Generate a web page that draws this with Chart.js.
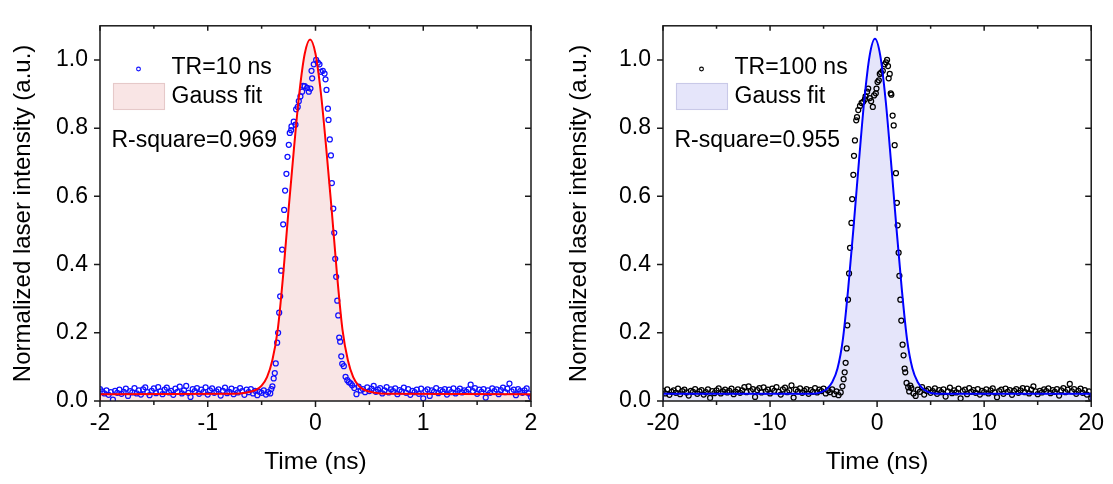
<!DOCTYPE html>
<html><head><meta charset="utf-8">
<script src="https://cdn.jsdelivr.net/npm/chart.js@4/dist/chart.umd.min.js"></script>
<style>
html,body{margin:0;padding:0;background:#fff;}
#wrap{position:relative;width:1113px;height:484px;overflow:hidden;}
.pane{position:absolute;top:0;height:484px;}
</style></head><body>
<div id="wrap">
<div class="pane" style="left:0;width:556px"><canvas id="c1" width="556" height="484"></canvas></div>
<div class="pane" style="left:556px;width:557px"><canvas id="c2" width="557" height="484"></canvas></div>
</div>
<script>
// ---------- Left panel (TR = 10 ns), time in ns ----------
const leftXTicks = [-2, -1, 0, 1, 2];
const leftPreStart = -2.0, leftPreStep = 0.02;
const leftPreValues = [
0.035,0.028,0.022,0.031,0.018,0.026,0.004,0.030,0.024,0.033,
0.021,0.027,0.036,0.015,0.029,0.025,0.038,0.022,0.031,0.019,
0.034,0.040,0.026,0.017,0.030,0.037,0.023,0.041,0.028,0.020,
0.033,0.039,0.025,0.030,0.018,0.036,0.027,0.042,0.022,0.031,
0.044,0.024,0.012,0.035,0.029,0.038,0.021,0.033,0.026,0.040,
0.019,0.031,0.037,0.024,0.028,0.034,0.016,0.030,0.039,0.023,
0.027,0.036,0.020,0.032,0.025,0.038,0.029,0.018,0.033,0.026,
0.035,0.022,0.030,0.017,0.027,0.024,0.031,0.019,0.026];
const leftPeakTimes = [-0.42,-0.41,-0.40,-0.388,-0.378,-0.369,-0.356,-0.347,-0.337,-0.328,-0.319,-0.310,-0.300,-0.291,-0.282,-0.270,-0.260,-0.248,-0.239,-0.226,-0.223,-0.202,-0.186,-0.180,-0.165,-0.155,-0.140,-0.124,-0.115,-0.100,-0.077,-0.062,-0.047,-0.037,-0.031,-0.016,0.006,0.022,0.037,0.050,0.068,0.084,0.093,0.102,0.115,0.121,0.133,0.143,0.152,0.165,0.174,0.183,0.192,0.202,0.211,0.220,0.229,0.239,0.248,0.263,0.279,0.295,0.310,0.326];
const leftPeakValues = [0.022,0.035,0.043,0.066,0.082,0.110,0.171,0.200,0.259,0.307,0.382,0.444,0.518,0.560,0.617,0.666,0.716,0.751,0.786,0.794,0.805,0.819,0.810,0.855,0.862,0.879,0.893,0.907,0.924,0.923,0.918,0.907,0.916,0.968,0.946,0.987,1.000,0.992,0.987,0.965,0.968,0.960,0.943,0.912,0.857,0.824,0.767,0.720,0.639,0.564,0.493,0.417,0.364,0.294,0.251,0.186,0.174,0.131,0.109,0.102,0.071,0.061,0.055,0.052];
const leftPostStart = 0.34, leftPostStep = 0.02;
const leftPostValues = [
0.046,0.038,0.020,0.042,0.031,0.035,0.026,0.040,0.029,0.036,
0.044,0.027,0.033,0.038,0.022,0.031,0.041,0.025,0.034,0.029,
0.037,0.020,0.032,0.028,0.039,0.024,0.035,0.018,0.030,0.026,
0.033,0.021,0.036,0.008,0.029,0.034,0.015,0.031,0.027,0.038,
0.023,0.032,0.028,0.035,0.019,0.033,0.026,0.037,0.022,0.030,
0.036,0.025,0.031,0.027,0.034,0.048,0.029,0.038,0.021,0.033,
0.027,0.035,0.010,0.031,0.024,0.037,0.029,0.034,0.020,0.032,
0.039,0.026,0.036,0.051,0.028,0.033,0.017,0.035,0.029,0.024,
0.031,0.037,0.022,0.012];
const leftFitTimes  = [-2,-0.75,-0.65,-0.55,-0.5,-0.45,-0.4,-0.35,-0.3,-0.25,-0.2,-0.15,-0.1,-0.05,0,0.05,0.1,0.15,0.2,0.25,0.3,0.35,0.4,0.45,0.55,0.65,2];
const leftFitValues = [0.020,0.021,0.024,0.033,0.045,0.070,0.120,0.210,0.370,0.561,0.740,0.903,1.018,1.060,1.018,0.903,0.740,0.561,0.370,0.210,0.120,0.070,0.045,0.033,0.024,0.021,0.020];

// ---------- Right panel (TR = 100 ns) ----------
const rightXTicks = [-20, -10, 0, 10, 20];
const rightPreStart = -20.0, rightPreStep = 0.2;
const rightPreValues = [
0.030,0.022,0.034,0.018,0.027,0.031,0.024,0.036,0.020,0.029,
0.033,0.025,0.016,0.030,0.027,0.035,0.021,0.028,0.032,0.019,
0.026,0.034,0.009,0.029,0.023,0.031,0.037,0.022,0.028,0.033,
0.025,0.030,0.036,0.020,0.027,0.034,0.024,0.031,0.041,0.026,
0.043,0.029,0.035,0.012,0.032,0.038,0.025,0.040,0.028,0.033,
0.022,0.036,0.030,0.041,0.027,0.019,0.034,0.039,0.026,0.031,
0.046,0.010,0.033,0.028,0.037,0.024,0.030,0.035,0.021,0.032,
0.027,0.038,0.025,0.033,0.029,0.036,0.022,0.031,0.026,0.034,
0.020,0.028,0.017,0.025];
const rightPeakTimes = [-3.24,-3.13,-3.03,-2.94,-2.84,-2.78,-2.72,-2.62,-2.53,-2.40,-2.33,-2.22,-2.16,-2.07,-1.95,-1.88,-1.76,-1.60,-1.45,-1.30,-1.14,-1.08,-0.93,-0.83,-0.68,-0.56,-0.40,-0.28,-0.12,-0.06,0.04,0.16,0.25,0.37,0.53,0.71,0.83,0.93,1.02,1.08,1.18,1.27,1.33,1.45,1.55,1.64,1.76,1.85,1.92,2.01,2.08,2.17,2.26,2.38,2.47,2.57,2.63,2.75,2.90,3.00,3.10];
const rightPeakValues = [0.043,0.064,0.084,0.112,0.154,0.222,0.297,0.374,0.449,0.522,0.592,0.663,0.719,0.764,0.823,0.832,0.853,0.865,0.874,0.877,0.884,0.893,0.907,0.916,0.888,0.879,0.862,0.896,0.902,0.916,0.935,0.940,0.959,0.963,0.968,0.987,0.993,1.000,0.982,0.946,0.959,0.902,0.898,0.837,0.808,0.750,0.668,0.581,0.515,0.435,0.367,0.297,0.236,0.165,0.134,0.095,0.084,0.053,0.040,0.028,0.045];
const rightPostStart = 3.2, rightPostStep = 0.2;
const rightPostValues = [
0.038,0.022,0.015,0.033,0.027,0.041,0.019,0.030,0.035,0.024,
0.029,0.037,0.021,0.032,0.026,0.034,0.013,0.028,0.039,0.023,
0.031,0.025,0.036,0.008,0.029,0.033,0.020,0.038,0.027,0.032,
0.024,0.035,0.019,0.030,0.026,0.034,0.022,0.031,0.037,0.025,
0.011,0.029,0.033,0.021,0.036,0.027,0.032,0.018,0.030,0.035,
0.024,0.031,0.038,0.026,0.036,0.022,0.033,0.043,0.028,0.020,
0.030,0.025,0.034,0.029,0.037,0.023,0.032,0.027,0.035,0.016,
0.031,0.038,0.026,0.033,0.050,0.028,0.035,0.021,0.030,0.036,
0.024,0.032,0.019,0.028,0.008];
const rightFitTimes  = [-20,-6.7,-5.7,-5.2,-4.7,-4.2,-3.7,-3.2,-2.7,-2.2,-1.7,-1.2,-0.7,-0.2,0.3,0.8,1.3,1.8,2.3,2.8,3.3,3.8,4.3,4.8,5.3,6.3,20];
const rightFitValues = [0.021,0.021,0.022,0.026,0.035,0.055,0.095,0.180,0.330,0.510,0.701,0.881,1.012,1.062,1.012,0.881,0.701,0.510,0.330,0.180,0.095,0.055,0.035,0.026,0.022,0.021,0.021];

const yTicks = [0, 0.2, 0.4, 0.6, 0.8, 1.0];
const FONT = "'Liberation Sans', Arial, sans-serif";

function series(start, step, vals) { return vals.map((v, i) => ({x: +(start + i * step).toFixed(4), y: v})); }
function pairs(ts, vs) { return ts.map((t, i) => ({x: t, y: vs[i]})); }

const framePlugin = {
  id: 'frame',
  afterDatasetsDraw(chart, args, o) {
    const {ctx, chartArea: a, scales: {x, y}} = chart;
    ctx.save();
    ctx.strokeStyle = '#1a1a1a';
    ctx.lineWidth = 1.5;
    ctx.strokeRect(a.left, a.top, a.right - a.left, a.bottom - a.top);
    ctx.beginPath();
    x.ticks.forEach(t => {
      const px = x.getPixelForValue(t.value);
      const major = t.label !== '';
      ctx.moveTo(px, a.bottom); ctx.lineTo(px, a.bottom + (major ? 6 : 4));
      ctx.moveTo(px, a.top); ctx.lineTo(px, a.top + (major ? 5 : 3));
    });
    y.ticks.forEach(t => {
      const py = y.getPixelForValue(t.value);
      ctx.moveTo(a.left - 6, py); ctx.lineTo(a.left, py);
      ctx.moveTo(a.right - 6, py); ctx.lineTo(a.right, py);
    });
    ctx.stroke();
    // legend
    const L = a.left;
    ctx.font = '23px ' + FONT;
    ctx.fillStyle = '#000';
    ctx.textBaseline = 'middle';
    ctx.textAlign = 'left';
    ctx.beginPath();
    ctx.strokeStyle = o.marker; ctx.lineWidth = 1.1;
    ctx.arc(L + 38.5, 69, 1.9, 0, Math.PI * 2);
    ctx.stroke();
    ctx.fillText(o.label, L + 71.5, 68);
    ctx.fillStyle = o.fill;
    ctx.fillRect(L + 13.5, 83.5, 51, 26);
    ctx.strokeStyle = o.boxBorder;
    ctx.strokeRect(L + 13.5, 83.5, 51, 26);
    ctx.fillStyle = '#000';
    ctx.fillText('Gauss fit', L + 71.5, 97);
    ctx.fillText(o.rsq, L + 11.5, 141);
    ctx.restore();
  }
};

function makeChart(id, p) {
  new Chart(document.getElementById(id), {
    type: 'scatter',
    data: {datasets: [
      {type: 'line', label: 'Gauss fit', data: pairs(p.fitT, p.fitV), borderColor: p.line, borderWidth: 2,
       backgroundColor: p.fill, fill: 'origin', pointRadius: 0, cubicInterpolationMode: 'monotone', order: 0},
      {type: 'line', label: 'edges', data: [{x: p.min, y: 0}, {x: p.min, y: p.fitV[0]}, {x: 0, y: null}, {x: p.max, y: p.fitV[p.fitV.length - 1]}, {x: p.max, y: 0}],
       borderColor: p.line, borderWidth: 2, fill: false, pointRadius: 0, tension: 0, spanGaps: false, order: 0},
      {type: 'scatter', label: p.label, data: p.pts, pointStyle: 'circle', pointRadius: 2.5, borderWidth: 1.25,
       borderColor: p.marker, backgroundColor: 'rgba(0,0,0,0)', order: 1}
    ]},
    options: {
      responsive: false, animation: false, events: [],
      layout: {padding: {left: 0, right: p.padR, top: 12, bottom: 0}},
      plugins: {legend: {display: false}, tooltip: {enabled: false},
        filler: {drawTime: 'beforeDatasetsDraw'},
        frame: {marker: p.marker, label: p.label, fill: p.fill, boxBorder: p.boxBorder, rsq: p.rsq}},
      scales: {
        x: {type: 'linear', min: p.min, max: p.max,
          afterBuildTicks(s) { s.ticks = p.minorTicks.map(v => ({value: v})); },
          ticks: {autoSkip: false, maxRotation: 0, color: '#000', font: {family: FONT, size: 23}, padding: 9,
            callback: v => p.xTicks.includes(v) ? String(v) : ''},
          grid: {display: false, drawTicks: false}, border: {display: false},
          title: {display: true, text: 'Time (ns)', color: '#000', font: {family: FONT, size: 24.5}, padding: {top: 0, bottom: 7}},
          afterFit(s) { s.height = 83; }},
        y: {type: 'linear', min: 0, max: 1.1,
          afterBuildTicks(s) { s.ticks = yTicks.map(v => ({value: v})); },
          ticks: {color: '#000', font: {family: FONT, size: 23}, padding: 12, callback: v => v.toFixed(1)},
          grid: {display: false, drawTicks: false}, border: {display: false},
          title: {display: true, text: 'Normalized laser intensity (a.u.)', color: '#000', font: {family: FONT, size: 24}, padding: {top: 8.8, bottom: 0}},
          afterFit(s) { s.width = p.yW; }}
      }
    },
    plugins: [framePlugin]
  });
}

function minorList(ticks) {
  const out = [];
  for (let i = 0; i < ticks.length; i++) {
    out.push(ticks[i]);
    if (i < ticks.length - 1) out.push((ticks[i] + ticks[i + 1]) / 2);
  }
  return out;
}

makeChart('c1', {
  min: -2, max: 2, xTicks: leftXTicks, minorTicks: minorList(leftXTicks), padR: 25, yW: 100,
  fitT: leftFitTimes, fitV: leftFitValues,
  pts: [...series(leftPreStart, leftPreStep, leftPreValues), ...pairs(leftPeakTimes, leftPeakValues), ...series(leftPostStart, leftPostStep, leftPostValues)],
  line: '#ff0000', fill: '#f9e5e5', boxBorder: '#e6c9c9', marker: '#1010ff', label: 'TR=10 ns', rsq: 'R-square=0.969'
});
makeChart('c2', {
  min: -20, max: 20, xTicks: rightXTicks, minorTicks: minorList(rightXTicks), padR: 19, yW: 107,
  fitT: rightFitTimes, fitV: rightFitValues,
  pts: [...series(rightPreStart, rightPreStep, rightPreValues), ...pairs(rightPeakTimes, rightPeakValues), ...series(rightPostStart, rightPostStep, rightPostValues)],
  line: '#0000ff', fill: '#e5e5fa', boxBorder: '#c9c9e8', marker: '#000000', label: 'TR=100 ns', rsq: 'R-square=0.955'
});
</script>
</body></html>
